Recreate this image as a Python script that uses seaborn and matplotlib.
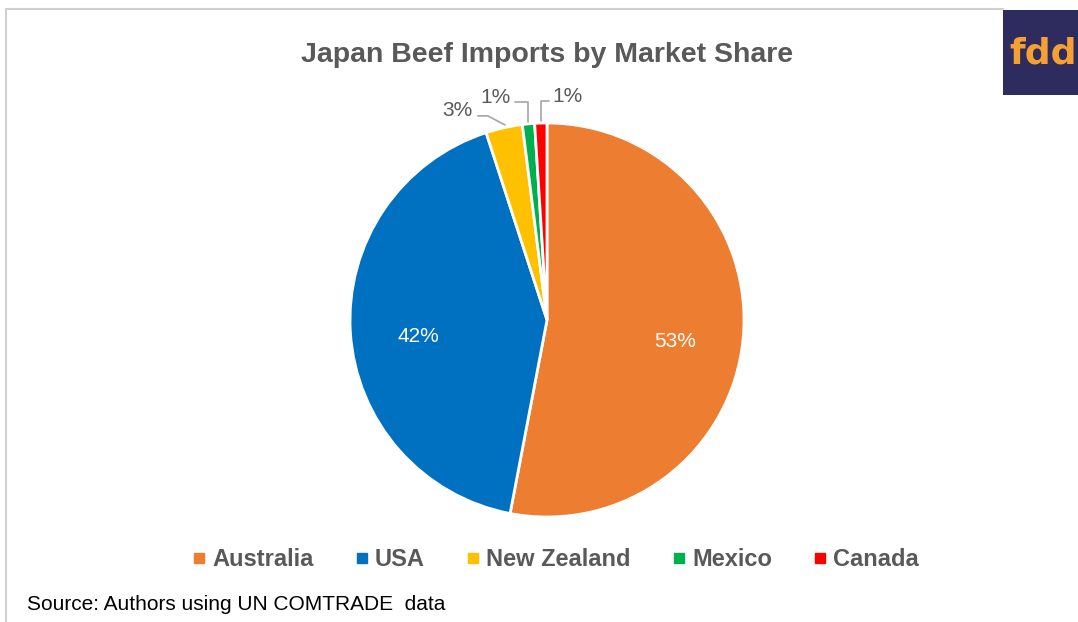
import numpy as np
import matplotlib
matplotlib.use("Agg")
import matplotlib.pyplot as plt
from matplotlib.lines import Line2D
from matplotlib.patches import Rectangle
import seaborn as sns

# ---- data ----
countries = ["Australia", "USA", "New Zealand", "Mexico", "Canada"]
shares = [53, 42, 3, 1, 1]
label_text = ["53%", "42%", "3%", "1%", "1%"]
colors = ["#ED7D31", "#0070C0", "#FFC000", "#00B050", "#FF0000"]

title = "Japan Beef Imports by Market Share"
source = "Source: Authors using UN COMTRADE  data"

sns.set_theme(style="white")
plt.rcParams["font.family"] = ["Liberation Sans", "DejaVu Sans"]
GRAY = "#595959"

W, H = 1078, 622
fig = plt.figure(figsize=(W / 100, H / 100), dpi=100)
fig.patch.set_facecolor("white")

cx, cy, r = 547, 320, 197
ax = fig.add_axes([(cx - r) / W, (H - cy - r) / H, 2 * r / W, 2 * r / H])
pal = sns.color_palette(colors)
wedges, _ = ax.pie(shares, colors=pal, startangle=90, counterclock=False,
                   radius=1.0, wedgeprops=dict(edgecolor="white", linewidth=2))
ax.set_xlim(-1, 1)
ax.set_ylim(-1, 1)
ax.set_aspect("equal")
ax.axis("off")

# inside labels
for i in (0, 1):
    w = wedges[i]
    ang = np.deg2rad((w.theta1 + w.theta2) / 2)
    ax.text(0.655 * np.cos(ang), 0.655 * np.sin(ang) - 0.045, label_text[i],
            color="white", fontsize=15, ha="center", va="center")

# outside labels with leader lines (offsets in axes data units)
for i in (2, 3, 4):
    w = wedges[i]
    ang = np.deg2rad((w.theta1 + w.theta2) / 2)
    x0, y0 = np.cos(ang), np.sin(ang)
    if i == 2:
        ly = y0 + 0.06
        xs = [x0 + 0.005, x0 - 0.082, x0 - 0.133]
        ys = [y0 + 0.014, ly, ly]
        tx, ha = x0 - 0.158, "right"
    elif i == 3:
        ly = y0 + 0.11
        xs = [x0, x0, x0 - 0.07]
        ys = [y0 + 0.01, ly, ly]
        tx, ha = x0 - 0.09, "right"
    else:
        ly = y0 + 0.11
        xs = [x0, x0, x0 + 0.04]
        ys = [y0 + 0.01, ly, ly]
        tx, ha = x0 + 0.06, "left"
    ax.plot(xs, ys, color="#A6A6A6", lw=1.2, clip_on=False)
    ax.text(tx, ly + 0.025, label_text[i], color=GRAY, fontsize=15,
            ha=ha, va="center", clip_on=False)

# title
fig.text(cx / W, 1 - 55 / H, title, ha="center", va="center",
         fontsize=20.5, fontweight="bold", color=GRAY)

# legend
handles = [Line2D([0], [0], marker="s", linestyle="none", markersize=7,
                  markerfacecolor=c, markeredgecolor=c) for c in pal]
fig.legend(handles, countries, loc="center", bbox_to_anchor=(0.516, 1 - 560 / H),
           ncol=5, frameon=False, handlelength=0.5, handletextpad=0.3,
           columnspacing=1.8, prop=dict(size=17, weight="bold"), labelcolor=GRAY)

# source
fig.text(27 / W, 1 - 604 / H, source, ha="left", va="center", fontsize=15, color="black")

# frame lines
fig.add_artist(Line2D([6 / W, 1003 / W], [1 - 9 / H, 1 - 9 / H], color="#D0D0D0", lw=1.5))
fig.add_artist(Line2D([6 / W, 6 / W], [1 - 9 / H, 0], color="#D0D0D0", lw=1.5))

# logo
fig.add_artist(Rectangle((1003 / W, 1 - 95 / H), 75 / W, 85 / H, transform=fig.transFigure,
                         facecolor="#2E2B5F", edgecolor="none"))
fig.text(1009 / W, 1 - 53 / H, "fdd", ha="left", va="center", fontsize=26,
         fontweight="bold", color="#F5A033", family=["DejaVu Sans"])

fig.savefig("out.png", dpi=100)
